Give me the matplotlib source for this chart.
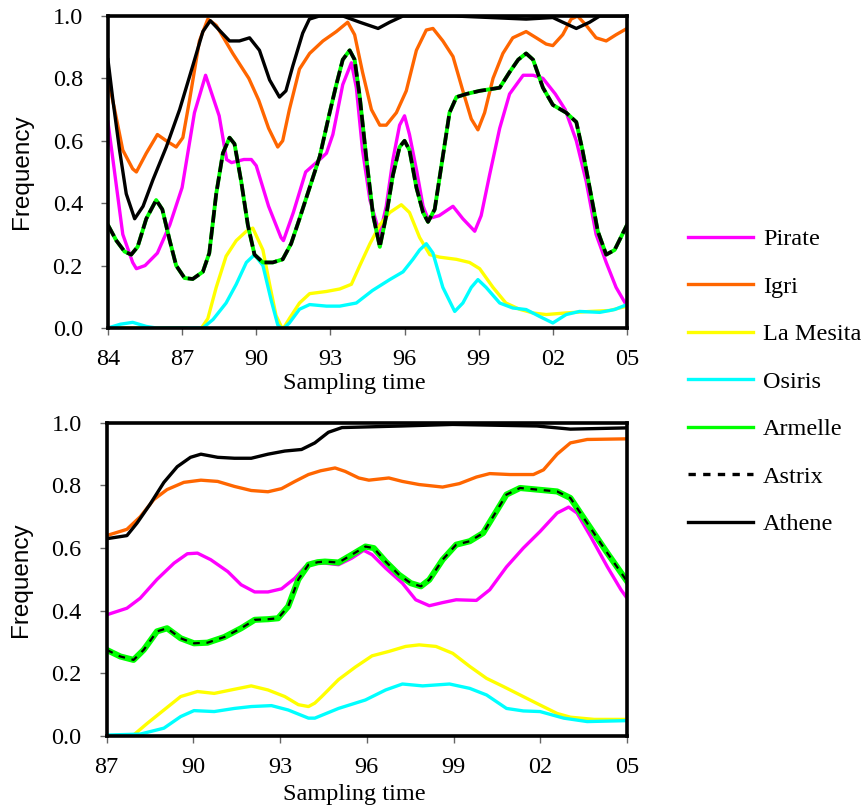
import matplotlib
matplotlib.use('Agg')
import matplotlib.pyplot as plt
from matplotlib.lines import Line2D

# ---- top panel (1984-2005) ----
t_pirate_x = [84.0, 84.6, 85.0, 85.15, 85.5, 86.0, 86.5, 87.0, 87.5, 87.95, 88.5, 88.8, 89.0, 89.5, 89.8, 90.0, 90.5, 91.0, 91.1,
              91.5, 92.0, 92.57, 92.84, 93.1, 93.5, 93.85, 94.05, 94.3, 94.6, 95.0, 95.26, 95.53, 95.8, 96.0, 96.2, 96.5,
              96.75, 96.95, 97.4, 97.96, 98.36, 98.84, 99.1, 99.44, 99.85, 100.25, 100.8, 101.2, 101.6, 102.1, 102.5,
              102.95, 103.35, 103.75, 104.16, 104.56, 105.0]
t_pirate_y = [0.66, 0.30, 0.21, 0.19, 0.20, 0.24, 0.33, 0.45, 0.69, 0.81, 0.68, 0.54, 0.53, 0.54, 0.54, 0.52, 0.39, 0.29, 0.28,
              0.37, 0.50, 0.54, 0.56, 0.62, 0.78, 0.85, 0.77, 0.57, 0.41, 0.30, 0.39, 0.54, 0.65, 0.68, 0.62, 0.50,
              0.39, 0.35, 0.36, 0.39, 0.35, 0.31, 0.36, 0.49, 0.64, 0.75, 0.81, 0.81, 0.80, 0.75, 0.70,
              0.60, 0.47, 0.30, 0.21, 0.13, 0.07]

t_igri_x = [84.0, 84.27, 84.6, 85.0, 85.15, 85.55, 86.0, 86.36, 86.76, 87.03, 87.3, 87.7, 88.04, 88.38, 89.05, 89.7, 90.1,
            90.5, 90.87, 91.07, 91.34, 91.75, 92.16, 92.7, 93.24, 93.7, 93.98, 94.3, 94.66, 95.0, 95.26, 95.67, 96.07,
            96.48, 96.88, 97.15, 97.55, 97.96, 98.36, 98.7, 98.97, 99.24, 99.58, 99.98, 100.38, 100.92, 101.33, 101.73,
            102.0, 102.4, 102.74, 103.0, 103.35, 103.75, 104.16, 104.56, 105.0]
t_igri_y = [0.80, 0.70, 0.57, 0.51, 0.50, 0.56, 0.62, 0.60, 0.58, 0.61, 0.73, 0.92, 0.99, 0.97, 0.88, 0.80, 0.73,
            0.64, 0.58, 0.60, 0.70, 0.83, 0.88, 0.92, 0.95, 0.98, 0.94, 0.82, 0.70, 0.65, 0.65, 0.69, 0.76,
            0.89, 0.955, 0.96, 0.92, 0.87, 0.76, 0.67, 0.635, 0.69, 0.80, 0.88, 0.93, 0.95, 0.93, 0.91,
            0.905, 0.94, 0.99, 1.0, 0.97, 0.93, 0.92, 0.94, 0.96]

t_mesita_x = [84.0, 86.0, 87.17, 87.7, 88.04, 88.38, 88.78, 89.19, 89.6, 89.86, 90.27, 90.54, 90.8, 91.07, 91.34, 91.75,
              92.16, 92.84, 93.38, 93.85, 94.19, 94.6, 95.0, 95.4, 95.87, 96.2, 96.61, 97.02, 97.42, 98.1, 98.63,
              99.04, 99.58, 100.1, 100.65, 101.2, 101.73, 102.5, 103.5, 104.3, 105.0]
t_mesita_y = [0.0, 0.0, 0.0, -0.01, 0.03, 0.13, 0.23, 0.28, 0.31, 0.32, 0.25, 0.14, 0.04, -0.005, 0.03, 0.08,
              0.11, 0.117, 0.125, 0.14, 0.20, 0.27, 0.33, 0.37, 0.395, 0.37, 0.29, 0.235, 0.227, 0.22, 0.21,
              0.19, 0.13, 0.08, 0.06, 0.048, 0.043, 0.048, 0.053, 0.056, 0.07]

t_osiris_x = [84.0, 84.5, 85.0, 85.55, 85.95, 87.0, 87.84, 88.25, 88.78, 89.19, 89.6, 89.93, 90.27, 90.6, 90.87, 91.07,
              91.34, 91.75, 92.16, 92.84, 93.38, 94.05, 94.7, 95.4, 95.94, 96.34, 96.61, 96.88, 97.15, 97.55, 98.03,
              98.36, 98.7, 98.97, 99.3, 99.85, 100.38, 100.92, 101.46, 102.0, 102.54, 103.08, 103.9, 104.5, 105.0]
t_osiris_y = [0.0, 0.012, 0.018, 0.005, 0.0, 0.0, 0.0, 0.027, 0.08, 0.14, 0.21, 0.235, 0.20, 0.09, 0.01, -0.005,
              0.016, 0.06, 0.075, 0.07, 0.07, 0.08, 0.12, 0.155, 0.18, 0.22, 0.25, 0.27, 0.24, 0.13, 0.053,
              0.08, 0.13, 0.155, 0.13, 0.08, 0.064, 0.059, 0.037, 0.016, 0.043, 0.053, 0.05, 0.059, 0.075]

t_armelle_x = [84.0, 84.34, 84.67, 84.94, 85.2, 85.55, 85.95, 86.2, 86.5, 86.76, 87.1, 87.43, 87.84, 88.1, 88.38, 88.65,
               88.92, 89.12, 89.39, 89.66, 89.93, 90.27, 90.67, 91.07, 91.41, 91.75, 92.16, 92.57, 92.97, 93.24, 93.5,
               93.78, 93.98, 94.19, 94.46, 94.73, 95.0, 95.26, 95.53, 95.8, 96.0, 96.2, 96.48, 96.75, 96.95, 97.22,
               97.55, 97.82, 98.1, 98.5, 99.04, 99.85, 100.25, 100.6, 100.92, 101.2, 101.6, 102.0, 102.54, 102.95,
               103.2, 103.49, 103.82, 104.16, 104.5, 105.0]
t_armelle_y = [0.33, 0.28, 0.245, 0.235, 0.26, 0.35, 0.41, 0.38, 0.28, 0.20, 0.16, 0.157, 0.18, 0.24, 0.43, 0.56,
               0.61, 0.59, 0.47, 0.33, 0.235, 0.21, 0.21, 0.22, 0.27, 0.35, 0.45, 0.55, 0.69, 0.78, 0.86,
               0.89, 0.86, 0.74, 0.54, 0.36, 0.26, 0.36, 0.49, 0.58, 0.60, 0.57, 0.45, 0.37, 0.34, 0.38,
               0.55, 0.69, 0.74, 0.75, 0.76, 0.77, 0.82, 0.86, 0.88, 0.86, 0.77, 0.715, 0.69, 0.66,
               0.57, 0.45, 0.31, 0.235, 0.25, 0.33]
t_astrix_x = t_armelle_x
t_astrix_y = t_armelle_y

t_athene_x = [84.0, 84.2, 84.47, 84.74, 85.08, 85.42, 85.82, 86.36, 86.9, 87.43, 87.84, 88.14, 88.5, 88.92, 89.32, 89.73,
              90.13, 90.54, 90.94, 91.2, 91.48, 91.88, 92.15, 92.56, 93.5, 94.19, 94.93, 95.4, 95.94, 98.0, 100.92,
              102.0, 102.4, 102.95, 103.49, 103.9, 105.0]
t_athene_y = [0.86, 0.73, 0.57, 0.43, 0.35, 0.39, 0.475, 0.58, 0.70, 0.84, 0.95, 0.985, 0.955, 0.92, 0.92, 0.93,
              0.89, 0.795, 0.74, 0.76, 0.84, 0.945, 0.99, 1.0, 1.0, 0.98, 0.96, 0.98, 1.0, 1.0, 0.99,
              0.995, 0.98, 0.96, 0.98, 1.0, 1.0]

# ---- bottom panel (1987-2005) ----
b_pirate_x = [87.0, 87.7, 88.16, 88.74, 89.33, 89.79, 90.14, 90.6, 91.19, 91.65, 92.12, 92.58, 93.05, 93.51, 93.86, 94.09,
              94.55, 95.02, 95.48, 95.89, 96.18, 96.65, 97.23, 97.69, 98.16, 98.62, 99.09, 99.79, 100.25, 100.83, 101.41,
              101.99, 102.58, 102.98, 103.27, 103.74, 104.32, 104.79, 105.0]
b_pirate_y = [0.387, 0.408, 0.44, 0.50, 0.552, 0.582, 0.584, 0.563, 0.525, 0.483, 0.46, 0.46, 0.47, 0.504, 0.54, 0.554,
              0.552, 0.547, 0.568, 0.593, 0.579, 0.536, 0.488, 0.435, 0.416, 0.426, 0.435, 0.433, 0.467, 0.54, 0.60,
              0.653, 0.712, 0.731, 0.712, 0.637, 0.54, 0.467, 0.44]

b_igri_x = [87.0, 87.7, 88.16, 88.63, 89.09, 89.67, 90.26, 90.84, 91.42, 92.0, 92.58, 93.05, 93.51, 93.98, 94.4, 94.9,
            95.25, 95.72, 96.07, 96.76, 97.23, 97.81, 98.62, 99.2, 99.79, 100.25, 100.95, 101.76, 102.11, 102.58, 103.04,
            103.62, 105.0]
b_igri_y = [0.64, 0.66, 0.70, 0.755, 0.787, 0.81, 0.817, 0.813, 0.797, 0.784, 0.78, 0.79, 0.813, 0.835, 0.847, 0.856,
            0.845, 0.824, 0.817, 0.824, 0.813, 0.803, 0.795, 0.806, 0.827, 0.838, 0.835, 0.835, 0.85, 0.90, 0.936,
            0.947, 0.949]

b_mesita_x = [87.0, 87.93, 88.4, 88.98, 89.56, 90.14, 90.72, 91.3, 92.0, 92.58, 93.16, 93.63, 93.98, 94.2, 94.44, 95.02,
              95.6, 96.18, 96.76, 97.34, 97.81, 98.39, 98.97, 99.56, 100.14, 100.72, 101.3, 101.88, 102.58, 103.04,
              103.86, 105.0]
b_mesita_y = [0.0, 0.003, 0.04, 0.083, 0.126, 0.142, 0.136, 0.147, 0.16, 0.147, 0.126, 0.10, 0.094, 0.105, 0.126, 0.18,
              0.22, 0.256, 0.27, 0.286, 0.291, 0.286, 0.264, 0.222, 0.184, 0.158, 0.131, 0.104, 0.072, 0.06,
              0.053, 0.053]

b_osiris_x = [87.0, 88.16, 88.98, 89.56, 90.02, 90.72, 91.42, 92.0, 92.7, 93.28, 93.98, 94.2, 95.02, 95.95, 96.65, 97.23,
              97.93, 98.86, 99.56, 100.14, 100.83, 101.41, 101.99, 102.81, 103.62, 105.0]
b_osiris_y = [0.003, 0.006, 0.025, 0.062, 0.081, 0.078, 0.088, 0.094, 0.097, 0.083, 0.057, 0.057, 0.088, 0.115, 0.147,
              0.166, 0.16, 0.166, 0.152, 0.131, 0.088, 0.08, 0.078, 0.057, 0.046, 0.049]

b_armelle_x = [87.0, 87.47, 87.93, 88.28, 88.74, 89.09, 89.56, 90.02, 90.49, 91.07, 91.65, 92.12, 92.58, 92.93, 93.28,
               93.63, 93.98, 94.3, 94.55, 95.02, 95.48, 95.95, 96.24, 96.65, 97.11, 97.52, 97.87, 98.16, 98.62, 99.09,
               99.56, 100.02, 100.37, 100.83, 101.3, 101.88, 102.58, 103.04, 103.62, 104.32, 105.0]
b_armelle_y = [0.275, 0.254, 0.243, 0.275, 0.334, 0.344, 0.312, 0.296, 0.298, 0.316, 0.344, 0.371, 0.373, 0.376, 0.414,
               0.50, 0.547, 0.555, 0.557, 0.554, 0.579, 0.605, 0.60, 0.557, 0.515, 0.488, 0.478, 0.499, 0.563, 0.611,
               0.622, 0.648, 0.701, 0.771, 0.792, 0.787, 0.781, 0.76, 0.68, 0.584, 0.494]
b_astrix_x = b_armelle_x
b_astrix_y = b_armelle_y

b_athene_x = [87.0, 87.7, 88.05, 88.5, 88.98, 89.44, 89.9, 90.26, 90.84, 91.42, 92.0, 92.58, 93.16, 93.74, 94.2, 94.67,
              95.14, 97.2, 98.97, 101.88, 103.04, 105.0]
b_athene_y = [0.63, 0.64, 0.68, 0.74, 0.81, 0.86, 0.89, 0.90, 0.89, 0.887, 0.887, 0.90, 0.91, 0.915, 0.936, 0.97,
              0.985, 0.99, 0.995, 0.99, 0.98, 0.984]

labels = ['Pirate', 'Igri', 'La Mesita', 'Osiris', 'Armelle', 'Astrix', 'Athene']
colors = ['#ff00ff', '#ff6600', '#ffff00', '#00ffff', '#00ff00', 'black', 'black']
tick_years = [84, 87, 90, 93, 96, 99, 102, 105]
tick_names = ['84', '87', '90', '93', '96', '99', '02', '05']

serif = 'Liberation Serif'
sans = 'Liberation Sans'
fs = 17.5

fig = plt.figure(figsize=(8.63, 8.07), dpi=100)
ax1 = fig.add_axes([0.1251, 0.5936, 0.6014, 0.3866])
ax2 = fig.add_axes([0.1236, 0.0880, 0.6030, 0.3880])


def draw(ax, series, xmin, thick_green, label_x, label_y):
    lw = 2.4
    for (xs, ys), lab, c in zip(series, labels, colors):
        if lab == 'Armelle':
            ax.plot(xs, ys, color=c, lw=4.4 if thick_green else 2.8, solid_joinstyle='round')
        elif lab == 'Astrix':
            if thick_green:
                ax.plot(xs, ys, color=c, lw=1.6, dashes=(3, 3))
            else:
                ax.plot(xs, ys, color=c, lw=2.6, dashes=(3.5, 1.2))
        else:
            ax.plot(xs, ys, color=c, lw=lw, solid_joinstyle='round')
    ax.set_xlim(xmin, 105)
    ax.set_ylim(0, 1.0)
    ax.set_xticks([t for t in tick_years if t >= xmin])
    ax.set_xticklabels([n for t, n in zip(tick_years, tick_names) if t >= xmin])
    ax.set_yticks([0, 0.2, 0.4, 0.6, 0.8, 1.0])
    ax.set_yticklabels(['0.0', '0.2', '0.4', '0.6', '0.8', '1.0'])
    for lbl in ax.get_xticklabels() + ax.get_yticklabels():
        lbl.set_fontfamily(serif)
        lbl.set_fontsize(fs)
    ax.tick_params(direction='out', length=5, width=1.0, color='#666666')
    ax.tick_params(axis='x', pad=10)
    ax.tick_params(axis='y', pad=13)
    for s in ax.spines.values():
        s.set_linewidth(2.6)
    ax.set_xlabel('Sampling time', fontfamily=serif, fontsize=fs)
    ax.xaxis.set_label_coords(label_x, label_y)
    ax.set_ylabel('Frequency', fontfamily=sans, fontsize=fs, labelpad=14)


top = [(t_pirate_x, t_pirate_y), (t_igri_x, t_igri_y), (t_mesita_x, t_mesita_y), (t_osiris_x, t_osiris_y),
       (t_armelle_x, t_armelle_y), (t_astrix_x, t_astrix_y), (t_athene_x, t_athene_y)]
bot = [(b_pirate_x, b_pirate_y), (b_igri_x, b_igri_y), (b_mesita_x, b_mesita_y), (b_osiris_x, b_osiris_y),
       (b_armelle_x, b_armelle_y), (b_astrix_x, b_astrix_y), (b_athene_x, b_athene_y)]
draw(ax1, top, 84, False, 0.474, -0.143)
draw(ax2, bot, 87, True, 0.475, -0.153)

handles = []
for lab, c in zip(labels, colors):
    if lab == 'Astrix':
        handles.append(Line2D([], [], color=c, lw=2.4, dashes=(2.2, 2.2)))
    else:
        handles.append(Line2D([], [], color=c, lw=2.4))
fig.legend(handles, labels, loc='center left', bbox_to_anchor=(0.797, 0.527), frameon=False,
           prop={'family': serif, 'size': fs}, handlelength=2.7, handletextpad=0.4, labelspacing=1.05,
           borderpad=0, borderaxespad=0)

fig.savefig('out.png', dpi=100)
